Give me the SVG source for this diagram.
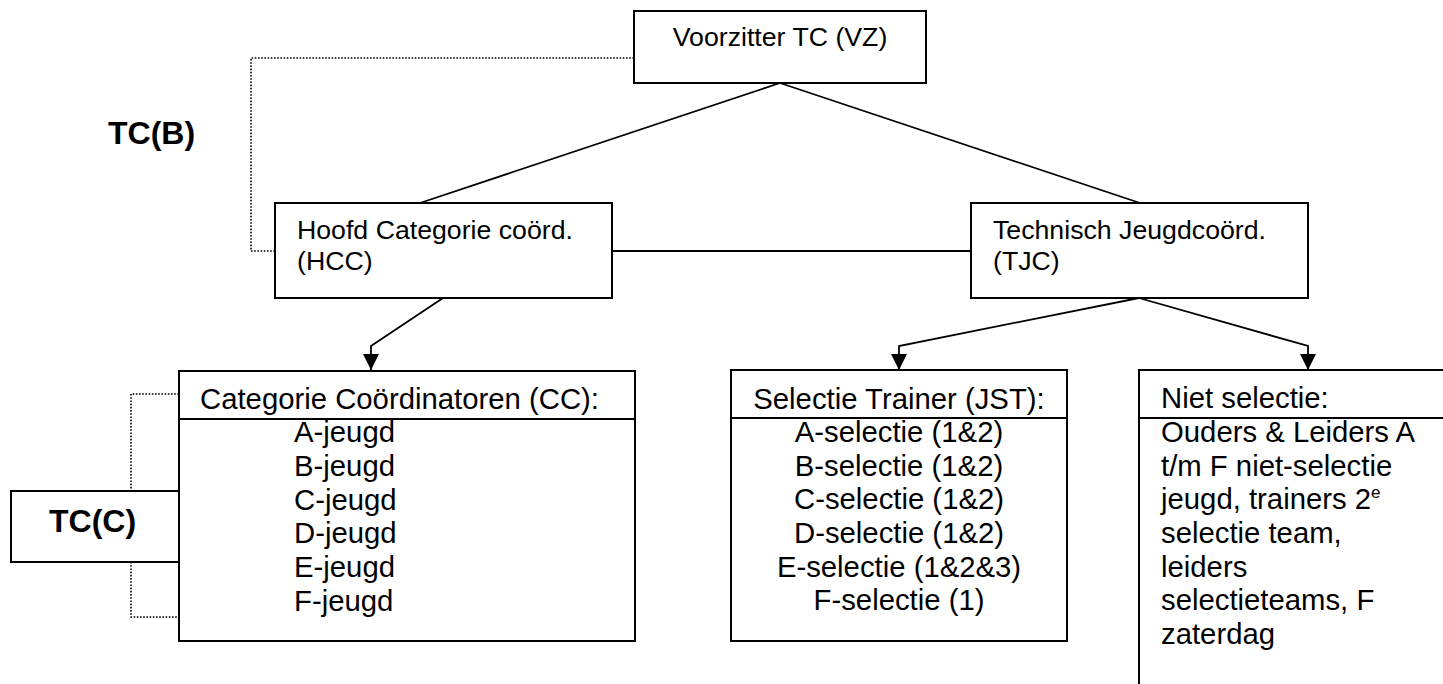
<svg xmlns="http://www.w3.org/2000/svg" width="1443" height="684" viewBox="0 0 1443 684">
<style>
.box{fill:#fff;stroke:#000;stroke-width:2}
.ln{fill:none;stroke:#000;stroke-width:1.8}
.dot{fill:none;stroke:#000;stroke-width:1.6;stroke-dasharray:1.6 1.6}
.t{font-family:"Liberation Sans",Arial,sans-serif;fill:#000}
.s{font-size:26.7px}
.m{font-size:29.3px}
.b{font-weight:bold;font-size:32px}
.c{text-anchor:middle}
</style>
<defs>
<marker id="ah" viewBox="0 0 16 16" refX="16" refY="8" markerWidth="16" markerHeight="16" markerUnits="userSpaceOnUse" orient="auto">
<path d="M0,0 L16,8 L0,16 z" fill="#000"/>
</marker>
</defs>
<rect width="1443" height="684" fill="#fff"/>
<g id="connectors">
<path class="dot" d="M634,58 H251 V251 H275"/>
<path class="dot" d="M179,394 H131 V491"/>
<path class="dot" d="M131,562 V617 H179"/>
<path class="ln" d="M780,83 L420,203"/>
<path class="ln" d="M780,83 L1140,203"/>
<path class="ln" d="M612,251 H971"/>
<path class="ln" d="M443,298 L371,346 V370" marker-end="url(#ah)"/>
<path class="ln" d="M1139,298 L899,346 V370" marker-end="url(#ah)"/>
<path class="ln" d="M1139,298 L1308,346 V370" marker-end="url(#ah)"/>
</g>
<g id="vz">
<rect class="box" x="634" y="11" width="292" height="72"/>
<text class="t s c" x="780" y="46">Voorzitter TC (VZ)</text>
</g>
<g id="tcb">
<text class="t b" x="108" y="144">TC(B)</text>
</g>
<g id="hcc">
<rect class="box" x="275" y="203" width="337" height="95"/>
<text class="t s" x="297" y="239">Hoofd Categorie coörd.</text>
<text class="t s" x="297" y="270">(HCC)</text>
</g>
<g id="tjc">
<rect class="box" x="971" y="203" width="337" height="95"/>
<text class="t s" x="993" y="239">Technisch Jeugdcoörd.</text>
<text class="t s" x="993" y="270">(TJC)</text>
</g>
<g id="cc">
<rect class="box" x="179" y="371" width="456" height="270"/>
<line class="ln" x1="179" y1="419" x2="635" y2="419"/>
<text class="t m" x="200" y="409">Categorie Coördinatoren (CC):</text>
<text class="t m" x="294" y="442">A-jeugd</text>
<text class="t m" x="294" y="476">B-jeugd</text>
<text class="t m" x="294" y="510">C-jeugd</text>
<text class="t m" x="294" y="543">D-jeugd</text>
<text class="t m" x="294" y="577">E-jeugd</text>
<text class="t m" x="294" y="611">F-jeugd</text>
</g>
<g id="tcc">
<rect class="box" x="11" y="491" width="168" height="71"/>
<text class="t b" x="49" y="532">TC(C)</text>
</g>
<g id="jst">
<rect class="box" x="731" y="370" width="336" height="271"/>
<line class="ln" x1="731" y1="418" x2="1067" y2="418"/>
<text class="t m c" x="899" y="409">Selectie Trainer (JST):</text>
<text class="t m c" x="899" y="442">A-selectie (1&amp;2)</text>
<text class="t m c" x="899" y="476">B-selectie (1&amp;2)</text>
<text class="t m c" x="899" y="509">C-selectie (1&amp;2)</text>
<text class="t m c" x="899" y="543">D-selectie (1&amp;2)</text>
<text class="t m c" x="899" y="577">E-selectie (1&amp;2&amp;3)</text>
<text class="t m c" x="899" y="610">F-selectie (1)</text>
</g>
<g id="niet">
<rect class="box" x="1139" y="370" width="400" height="400"/>
<line class="ln" x1="1139" y1="418" x2="1443" y2="418"/>
<text class="t m" x="1161" y="408">Niet selectie:</text>
<text class="t m" x="1161" y="442">Ouders &amp; Leiders A</text>
<text class="t m" x="1161" y="476">t/m F niet-selectie</text>
<text class="t m" x="1161" y="509">jeugd, trainers 2<tspan font-size="17px" dy="-11">e</tspan></text>
<text class="t m" x="1161" y="543">selectie team,</text>
<text class="t m" x="1161" y="577">leiders</text>
<text class="t m" x="1161" y="610">selectieteams, F</text>
<text class="t m" x="1161" y="644">zaterdag</text>
</g>
</svg>
